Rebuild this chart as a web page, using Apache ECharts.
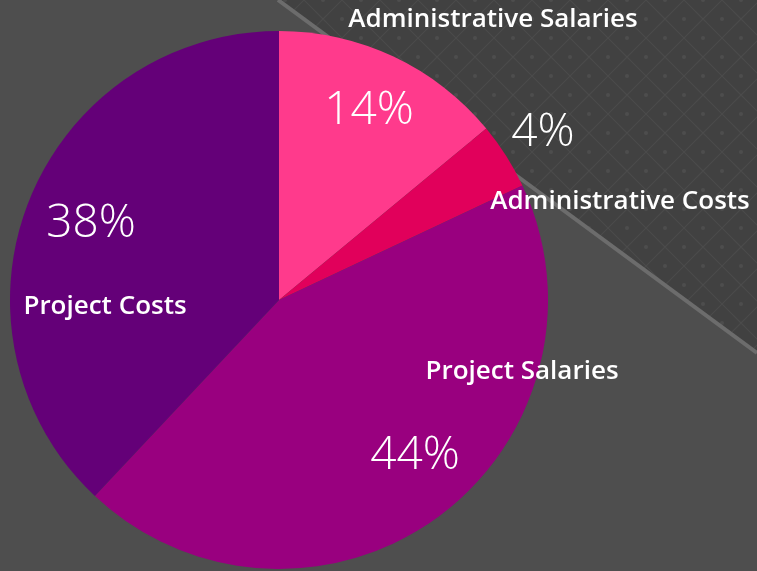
<!DOCTYPE html>
<html>
<head>
<meta charset="utf-8">
<title>Budget split</title>
<style>
  html, body { margin: 0; padding: 0; background: #4e4e4e; }
  #main { width: 757px; height: 571px; }
</style>
<script src="https://cdn.jsdelivr.net/npm/echarts@6/dist/echarts.min.js"></script>
</head>
<body>
<div id="main"></div>
<script>
// slices, clockwise from 12 o'clock
const categories = ['Administrative Salaries', 'Administrative Costs', 'Project Salaries', 'Project Costs'];
const shares = [14, 4, 44, 38];
const sliceColors = ['#ff3a8c', '#e1005b', '#99007f', '#640078'];

// where each label sits on the page (centre of the text)
const nameSpots = [[493, 20], [620, 202], [522, 372], [105, 307]];
const pctSpots = [[369, 111], [543, 133], [415, 456], [91, 224]];

// diamond lattice used in the dark upper-right band
function makeLattice() {
  const size = 38;
  const c = document.createElement('canvas');
  c.width = size;
  c.height = size;
  const g = c.getContext('2d');
  g.fillStyle = '#414141';
  g.fillRect(0, 0, size, size);
  g.strokeStyle = '#4b4b4b';
  g.lineWidth = 1.2;
  g.beginPath();
  g.moveTo(0, 0); g.lineTo(size, size);
  g.moveTo(size, 0); g.lineTo(0, size);
  g.stroke();
  g.fillStyle = '#4d4d4d';
  [[size / 2, 0], [size / 2, size], [0, size / 2], [size, size / 2]].forEach(([x, y]) => {
    g.beginPath();
    g.arc(x, y, 2, 0, Math.PI * 2);
    g.fill();
  });
  return c;
}

const sliceData = categories.map((name, i) => ({
  name,
  value: shares[i],
  itemStyle: { color: sliceColors[i] }
}));

const pieBase = {
  type: 'pie',
  center: [279, 300],
  radius: 269,
  startAngle: 90,
  clockwise: true,
  animation: false,
  emphasis: { disabled: true },
  labelLine: { show: false }
};

const chart = echarts.init(document.getElementById('main'));
chart.setOption({
  backgroundColor: '#4e4e4e',
  graphic: [
    {
      type: 'polygon',
      z: 0,
      silent: true,
      shape: { points: [[278, 0], [757, 0], [757, 353]] },
      style: { fill: { image: makeLattice(), repeat: 'repeat' } }
    },
    {
      type: 'line',
      z: 0,
      silent: true,
      shape: { x1: 278, y1: 0, x2: 757, y2: 353 },
      style: { stroke: '#6c6c6c', lineWidth: 4 }
    }
  ],
  series: [
    Object.assign({}, pieBase, {
      name: 'names',
      data: sliceData,
      label: {
        show: true,
        position: 'inside',
        formatter: '{b}',
        color: '#ffffff',
        fontFamily: 'Open Sans',
        fontWeight: 600,
        fontSize: 26
      },
      labelLayout: (p) => ({
        x: nameSpots[p.dataIndex][0],
        y: nameSpots[p.dataIndex][1],
        align: 'center',
        verticalAlign: 'middle'
      })
    }),
    Object.assign({}, pieBase, {
      name: 'shares',
      silent: true,
      data: categories.map((name, i) => ({ name, value: shares[i] })),
      itemStyle: { color: 'rgba(0,0,0,0)' },
      label: {
        show: true,
        position: 'inside',
        formatter: '{d}%',
        color: '#ffffff',
        fontFamily: 'Open Sans',
        fontWeight: 300,
        fontSize: 46
      },
      labelLayout: (p) => ({
        x: pctSpots[p.dataIndex][0],
        y: pctSpots[p.dataIndex][1],
        align: 'center',
        verticalAlign: 'middle'
      })
    })
  ]
});
</script>
</body>
</html>
